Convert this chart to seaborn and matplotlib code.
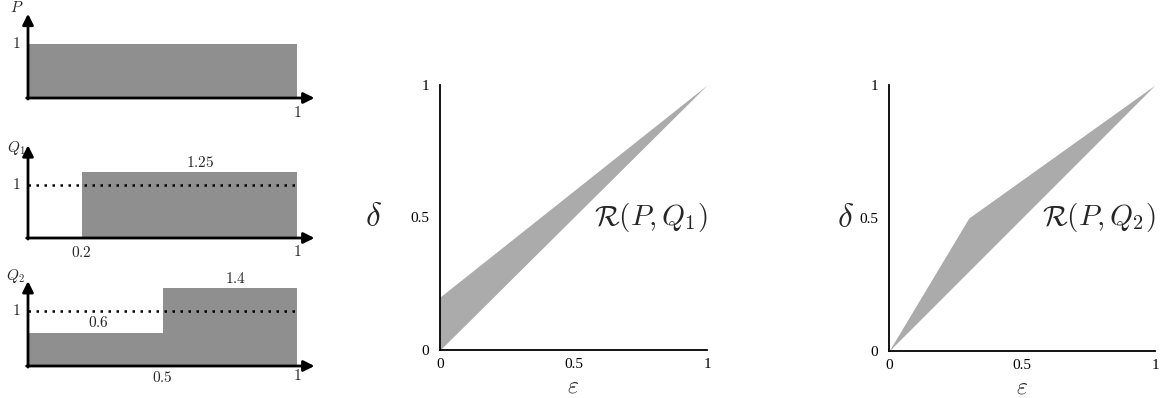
import numpy as np
import seaborn as sns
import matplotlib.pyplot as plt

# densities on [0, 1] (piecewise constant)
p_edges = [0, 1]
p_heights = [1]
q1_edges = [0, 0.2, 1]
q1_heights = [0, 1.25]
q2_edges = [0, 0.5, 1]
q2_heights = [0.6, 1.4]

# privacy regions: upper boundary and diagonal
r1_eps = [0, 1]
r1_upper = [0.2, 1]
r2_eps = [0, 0.3, 1]
r2_upper = [0, 0.5, 1]
diag = [0, 1]

sns.set_style('white')
plt.rcParams['mathtext.fontset'] = 'cm'
plt.rcParams['font.family'] = ['DejaVu Serif']

W, H = 1165, 398
fig = plt.figure(figsize=(W / 100, H / 100), dpi=100)


def small_axes(top, bottom, oy, uy):
    # box in pixels, origin at (28, oy), 269 px per x unit, uy px per y unit
    ax = fig.add_axes([0, 1 - bottom / H, 330 / W, (bottom - top) / H])
    ax.set_xlim(-28 / 269, (330 - 28) / 269)
    ax.set_ylim(-(bottom - oy) / uy, (oy - top) / uy)
    ax.axis('off')
    return ax


def arrows(ax, ytip):
    kw = dict(arrowstyle='-|>', lw=2, color='k', mutation_scale=16, shrinkA=0, shrinkB=0)
    ax.annotate('', xy=(1.065, 0), xytext=(-0.005, 0), arrowprops=kw)
    ax.annotate('', xy=(0, ytip), xytext=(0, -0.02), arrowprops=kw)


gray = '#8f8f8f'
fs = 11

# P
ax1 = small_axes(0, 126, 98, 54)
ax1.stairs(p_heights, p_edges, fill=True, color=gray)
arrows(ax1, 1.56)
ax1.text(-0.028, 1.0, '$1$', ha='right', va='center', fontsize=fs)
ax1.text(-0.04, 1.67, '$P$', ha='center', va='center', fontsize=fs)
ax1.text(1.0, -0.26, '$1$', ha='center', va='center', fontsize=fs)

# Q1
ax2 = small_axes(128, 262, 238, 53)
ax2.stairs(q1_heights, q1_edges, fill=True, color=gray)
ax2.plot([0, 1], [1, 1], color='k', lw=1.8, ls=(0, (1, 2.2)))
arrows(ax2, 1.75)
ax2.text(-0.028, 1.0, '$1$', ha='right', va='center', fontsize=fs)
ax2.text(-0.045, 1.7, '$Q_1$', ha='center', va='center', fontsize=fs)
ax2.text(0.64, 1.43, '$1.25$', ha='center', va='center', fontsize=fs)
ax2.text(0.2, -0.28, '$0.2$', ha='center', va='center', fontsize=fs)
ax2.text(1.0, -0.26, '$1$', ha='center', va='center', fontsize=fs)

# Q2
ax3 = small_axes(262, 398, 366, 55.5)
ax3.stairs(q2_heights, q2_edges, fill=True, color=gray)
ax3.plot([0, 1], [1, 1], color='k', lw=1.8, ls=(0, (1, 2.2)))
arrows(ax3, 1.53)
ax3.text(-0.028, 1.0, '$1$', ha='right', va='center', fontsize=fs)
ax3.text(-0.045, 1.62, '$Q_2$', ha='center', va='center', fontsize=fs)
ax3.text(0.26, 0.78, '$0.6$', ha='center', va='center', fontsize=fs)
ax3.text(0.77, 1.57, '$1.4$', ha='center', va='center', fontsize=fs)
ax3.text(0.5, -0.2, '$0.5$', ha='center', va='center', fontsize=fs)
ax3.text(1.0, -0.17, '$1$', ha='center', va='center', fontsize=fs)


def region_axes(left, right, top, bottom, eps, upper, label, ylab_x):
    ax = fig.add_axes([left / W, 1 - bottom / H, (right - left) / W, (bottom - top) / H])
    lower = np.interp(eps, diag, diag)
    ax.fill_between(eps, lower, upper, color='#ababab', lw=0)
    ax.set_xlim(0, 1)
    ax.set_ylim(0, 1)
    ax.set_xticks([0, 0.5, 1])
    ax.set_yticks([0, 0.5, 1])
    ax.set_xticklabels(['0', '0.5', '1'], family='Liberation Serif', fontsize=11)
    ax.set_yticklabels(['0', '0.5', '1'], family='Liberation Serif', fontsize=11)
    ax.tick_params(direction='in', length=4, width=1, pad=6, colors='k')
    ax.tick_params(axis='y', pad=8)
    sns.despine(ax=ax)
    for s in ['left', 'bottom']:
        ax.spines[s].set_color('k')
        ax.spines[s].set_linewidth(1.3)
    ax.set_xlabel(r'$\varepsilon$', fontsize=17, va='center')
    ax.xaxis.set_label_coords(0.5, -0.135)
    ax.set_ylabel(r'$\delta$', fontsize=24, rotation=0, va='center', ha='center')
    ax.yaxis.set_label_coords(ylab_x, 0.5)
    ax.text(1.0, 0.5, label, ha='right', va='center', fontsize=21)
    ax.set_facecolor('none')
    return ax


region_axes(440, 707, 85, 350, r1_eps, r1_upper, r'$\mathcal{R}(P,Q_1)$', -0.25)
region_axes(889, 1155, 85, 351, r2_eps, r2_upper, r'$\mathcal{R}(P,Q_2)$', -0.165)

fig.savefig('out.png', dpi=100)
